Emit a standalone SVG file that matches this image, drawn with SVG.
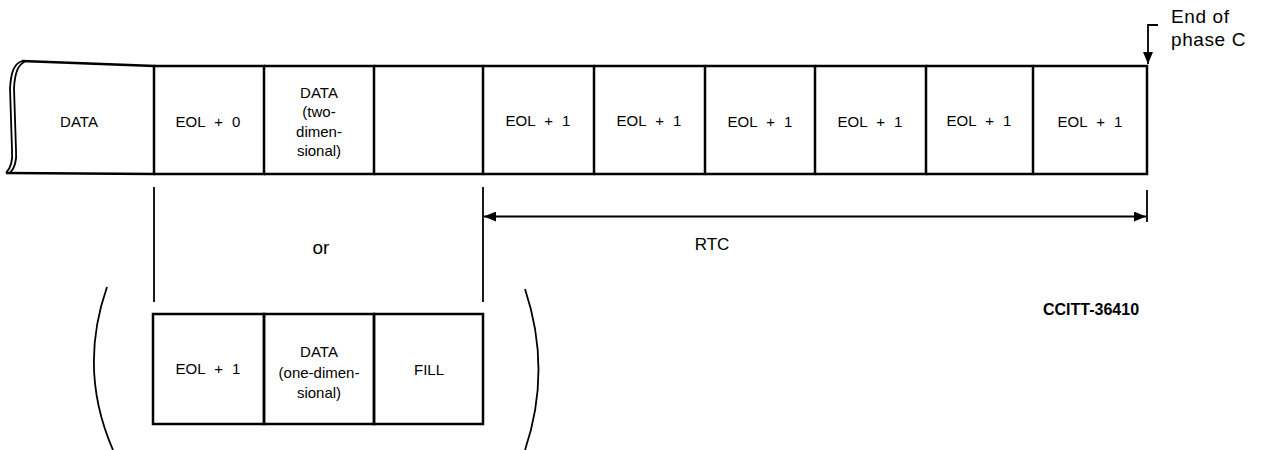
<svg xmlns="http://www.w3.org/2000/svg" width="1264" height="450" viewBox="0 0 1264 450">
<style>
.box{fill:none;stroke:#000;stroke-width:2.5}
.ln{fill:none;stroke:#000;stroke-width:1.8}
.t{font-family:"Liberation Sans",Arial,sans-serif;font-size:15px;fill:#000;text-anchor:middle;word-spacing:5px}
.big{font-family:"Liberation Sans",Arial,sans-serif;font-size:19px;fill:#000}
.id{font-family:"Liberation Sans",Arial,sans-serif;font-size:16px;font-weight:bold;fill:#000}
</style>
<defs>
<marker id="ah" viewBox="0 0 12 10" refX="12" refY="5" markerWidth="12" markerHeight="10" markerUnits="userSpaceOnUse" orient="auto-start-reverse">
<path d="M0,0 L12,5 L0,10 Z" fill="#000"/>
</marker>
</defs>

<g id="row-top">
<g id="cell-data">
<path class="box" d="M22,61 L154,66 L154,174 L6,173"/>
<path class="ln" d="M22,61 C14,64 11,72 10,88 L12,150 C13,162 11,168 6,173"/>
<path class="ln" d="M25,61.5 C18,65 15,72 14,88 L16,150 C17,162 15,168 10,173"/>
<text class="t" x="79" y="127">DATA</text>
</g>
<g id="cell-eol0">
<path class="box" d="M154,66 H264 V174 H154"/>
<text class="t" x="208" y="127">EOL + 0</text>
</g>
<g id="cell-data2d">
<path class="box" d="M264,66 H374 V174 H264"/>
<text class="t" x="319" y="98">DATA</text>
<text class="t" x="319" y="117">(two-</text>
<text class="t" x="319" y="137">dimen-</text>
<text class="t" x="319" y="156">sional)</text>
</g>
<g id="cell-empty">
<path class="box" d="M374,66 H483 V174 H374"/>
</g>
<g id="cell-rtc1">
<path class="box" d="M483,66 H594 V174 H483"/>
<text class="t" x="538" y="126">EOL + 1</text>
</g>
<g id="cell-rtc2">
<path class="box" d="M594,66 H705 V174 H594"/>
<text class="t" x="649" y="126">EOL + 1</text>
</g>
<g id="cell-rtc3">
<path class="box" d="M705,66 H815 V174 H705"/>
<text class="t" x="760" y="127">EOL + 1</text>
</g>
<g id="cell-rtc4">
<path class="box" d="M815,66 H926 V174 H815"/>
<text class="t" x="870" y="127">EOL + 1</text>
</g>
<g id="cell-rtc5">
<path class="box" d="M926,66 H1033 V174 H926"/>
<text class="t" x="979" y="126">EOL + 1</text>
</g>
<g id="cell-rtc6">
<path class="box" d="M1033,66 H1147 V174 H1033"/>
<text class="t" x="1090" y="127">EOL + 1</text>
</g>
</g>

<g id="row-bottom">
<g id="alt-eol1">
<rect class="box" x="153" y="314" width="111" height="110"/>
<text class="t" x="208" y="374">EOL + 1</text>
</g>
<g id="alt-data1d">
<rect class="box" x="264" y="314" width="110" height="110"/>
<text class="t" x="319" y="357">DATA</text>
<text class="t" x="319" y="378">(one-dimen-</text>
<text class="t" x="319" y="398">sional)</text>
</g>
<g id="alt-fill">
<rect class="box" x="374" y="314" width="109" height="110"/>
<text class="t" x="429" y="375">FILL</text>
</g>
<path id="paren-left" class="ln" d="M107,287 Q78,370 113,450"/>
<path id="paren-right" class="ln" d="M525,289 Q552,370 525,450"/>
</g>

<g id="connectors">
<line class="ln" x1="154" y1="187" x2="154" y2="302"/>
<line class="ln" x1="483" y1="187" x2="483" y2="302"/>
<line class="ln" x1="1147" y1="190" x2="1147" y2="222"/>
<line class="ln" x1="484" y1="216.5" x2="1146" y2="216.5" marker-start="url(#ah)" marker-end="url(#ah)"/>
<polyline class="ln" points="1158,25 1148,25 1148,64" marker-end="url(#ah)"/>
</g>

<g id="labels">
<text class="t" x="321" y="254" style="font-size:19px">or</text>
<text class="t" x="712" y="250" style="font-size:17px">RTC</text>
<text class="big" x="1171" y="23" letter-spacing="0.6">End of</text>
<text class="big" x="1171" y="46" letter-spacing="0.6">phase C</text>
<text class="id" x="1043" y="315">CCITT-36410</text>
</g>
</svg>
